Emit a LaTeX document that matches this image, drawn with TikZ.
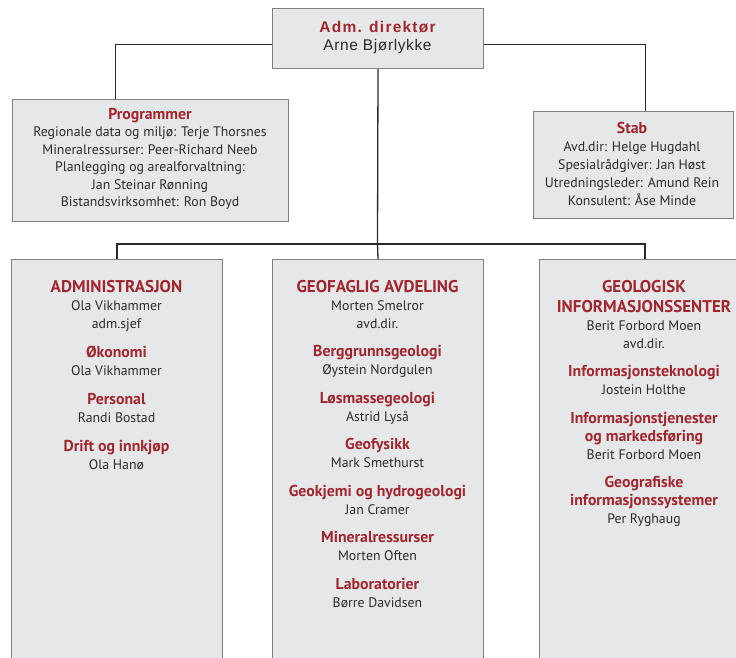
\documentclass[tikz,border=0pt]{standalone}
\usepackage{fontspec}
\setmainfont{PT Sans}
\newfontfamily\titlered[LetterSpace=8]{Liberation Sans}
\newfontfamily\titleblack[LetterSpace=4]{Liberation Sans}
\definecolor{ngured}{HTML}{A1262D}
\definecolor{boxgray}{HTML}{E6E7E8}
\definecolor{edgegray}{HTML}{808080}
\definecolor{inkgray}{HTML}{2B2B2B}
% red headings
\newcommand{\hd}[1]{{\fontsize{15.8}{18}\selectfont\bfseries\color{ngured}#1}}
\newcommand{\avd}[1]{{\fontsize{17}{18}\selectfont\bfseries\color{ngured}#1}}
\tikzset{
  orgbox/.style={draw=edgegray, line width=1pt, fill=boxgray, inner sep=0pt, anchor=north west},
  orgtext/.style={align=center, inner sep=0pt, anchor=north, text=inkgray, font=\fontsize{13.8}{18}\selectfont},
  link/.style={draw=inkgray, line width=1.3pt}
}
\begin{document}
\begin{tikzpicture}[x=1pt,y=-1pt]
\clip (0,0) rectangle (736,657);

% boxes
\node[orgbox, minimum width=211pt, minimum height=60pt] (adm) at (272,8) {};
\node[orgbox, minimum width=276pt, minimum height=122pt] (prog) at (12,99) {};
\node[orgbox, minimum width=200pt, minimum height=107pt] (stab) at (533,111) {};
\node[orgbox, minimum width=211pt, minimum height=420pt] (admin) at (11,259) {};
\node[orgbox, minimum width=211pt, minimum height=420pt] (geo) at (272,259) {};
\node[orgbox, minimum width=211pt, minimum height=420pt] (gis) at (539,259) {};

% connectors
\coordinate (bus) at (377.5,244);
\draw[link] ([yshift=-6pt]adm.west) -| ([xshift=-35pt]prog.north);
\draw[link] ([yshift=-6pt]adm.east) -| ([xshift=12pt]stab.north);
\draw[link] (adm.south) -- (bus);
\draw[link] (admin.north) |- (bus) -| (gis.north);
\draw[link] (bus) -- (geo.north);

% texts
\node[orgtext, font=\fontsize{15.5}{18}\selectfont] (admtxt) at (377.5,21)
  {\textcolor{ngured}{\titlered\bfseries Adm. direktør}\\ \titleblack Arne Bjørlykke};
\node[orgtext, font=\fontsize{13.8}{17.5}\selectfont] (progtxt) at (150,108)
  {\hd{Programmer}\\ Regionale data og miljø: Terje Thorsnes\\ Mineralressurser: Peer-Richard Neeb\\
   Planlegging og arealforvaltning:\\ Jan Steinar Rønning\\ Bistandsvirksomhet: Ron Boyd};
\node[orgtext] (stabtxt) at (632,122)
  {\hd{Stab}\\ Avd.dir: Helge Hugdahl\\ Spesialrådgiver: Jan Høst\\ Utredningsleder: Amund Rein\\ Konsulent: Åse Minde};
\node[orgtext] (admintxt) at (116.5,280)
  {\avd{ADMINISTRASJON}\\ Ola Vikhammer\\ adm.sjef\\[11pt]
   \hd{Økonomi}\\ Ola Vikhammer\\[11pt]
   \hd{Personal}\\ Randi Bostad\\[11pt]
   \hd{Drift og innkjøp}\\ Ola Hanø};
\node[orgtext] (geotxt) at (377.5,280)
  {\avd{GEOFAGLIG AVDELING}\\ Morten Smelror\\ avd.dir.\\[10.5pt]
   \hd{Berggrunnsgeologi}\\ Øystein Nordgulen\\[10.5pt]
   \hd{Løsmassegeologi}\\ Astrid Lyså\\[10.5pt]
   \hd{Geofysikk}\\ Mark Smethurst\\[10.5pt]
   \hd{Geokjemi og hydrogeologi}\\ Jan Cramer\\[10.5pt]
   \hd{Mineralressurser}\\ Morten Often\\[10.5pt]
   \hd{Laboratorier}\\ Børre Davidsen};
\node[orgtext] (gistxt) at (644,280)
  {\avd{GEOLOGISK}\\[2pt] \avd{INFORMASJONSSENTER}\\ Berit Forbord Moen\\ avd.dir.\\[10.5pt]
   \hd{Informasjonsteknologi}\\ Jostein Holthe\\[10.5pt]
   \hd{Informasjonstjenester}\\ \hd{og markedsføring}\\ Berit Forbord Moen\\[10.5pt]
   \hd{Geografiske}\\ \hd{informasjonssystemer}\\ Per Ryghaug};
\end{tikzpicture}
\end{document}
